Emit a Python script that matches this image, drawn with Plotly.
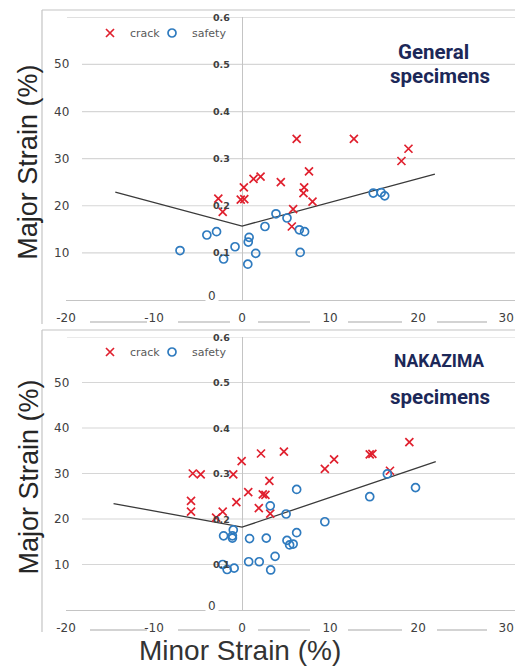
import plotly.graph_objects as go

# ---------------- data ----------------
x_ticks = [-20, -10, 0, 10, 20, 30]
y_ticks = [10, 20, 30, 40, 50]
inner_ticks = [0.1, 0.2, 0.3, 0.4, 0.5, 0.6]
grid_vals = [10, 20, 30, 40, 50, 60]

# General specimens (top)
top_crack_x = [-2.7, -2.2, -0.15, 0.25, 0.2, 1.3, 2.1, 4.4, 6.2, 12.7, 18.9, 18.1,
               7.6, 7.05, 6.97, 8.0, 5.8, 5.65]
top_crack_y = [21.5, 18.7, 21.3, 21.4, 23.9, 25.7, 26.2, 25.0, 34.2, 34.2, 32.1, 29.5,
               27.3, 23.9, 22.7, 20.9, 19.3, 15.6]
top_safe_x = [-7.05, -4.0, -2.9, -2.1, -0.8, 0.65, 0.7, 0.8, 1.55, 2.6, 3.85, 5.1,
              6.5, 7.1, 6.6, 14.9, 15.8, 16.2]
top_safe_y = [10.5, 13.8, 14.5, 8.7, 11.3, 7.6, 12.3, 13.3, 9.9, 15.6, 18.3, 17.4,
              14.9, 14.5, 10.1, 22.7, 22.8, 22.1]
top_line_x = [-14.4, 0, 21.9]
top_line_y = [22.9, 15.7, 26.7]

# NAKAZIMA specimens (bottom)
bot_crack_x = [-5.6, -4.7, -5.8, -5.8, -2.95, -2.2, -1.0, -0.65, -0.05, 0.7, 1.9, 2.15,
               4.75, 3.1, 2.35, 2.65, 3.2, 9.4, 10.45, 14.5, 14.8, 16.8, 19.0]
bot_crack_y = [30.0, 29.8, 24.0, 21.6, 20.3, 21.6, 29.8, 23.7, 32.7, 25.9, 22.4, 34.4,
               34.8, 28.4, 25.4, 25.3, 21.2, 31.0, 33.1, 34.2, 34.3, 30.6, 36.9]
bot_safe_x = [-1.0, -2.1, -1.1, -1.1, 0.85, 2.75, 3.2, 5.0, 5.1, 5.4, 5.8, 6.2, 6.2,
              9.4, 14.5, 16.5, 19.7, 3.75, 0.75, 1.95, 3.25, -2.2, -1.7, -0.9]
bot_safe_y = [17.6, 16.3, 16.3, 15.8, 15.7, 15.8, 22.9, 21.1, 15.3, 14.3, 14.5, 17.0, 26.5,
              19.4, 24.9, 29.9, 26.9, 11.8, 10.6, 10.6, 8.8, 10.0, 8.9, 9.2]
bot_line_x = [-14.6, 0, 22.0]
bot_line_y = [23.4, 18.2, 32.6]

# ---------------- styling ----------------
W, H = 515, 667
RED = "#e0202e"
BLUE = "#2f7bbf"
GRID = "#d6d6d6"
BORDER = "#c4c4c4"
TXT = "#404040"
NAVY = "#1c2858"
NUMFONT = "DejaVu Sans, sans-serif"
TITLEFONT = "Liberation Sans, Arial, sans-serif"
HEADFONT = "Roboto, Liberation Sans, sans-serif"


def px(xp):
    return xp / W


def py(yp):
    return 1 - yp / H


panels = [
    dict(xa="x", ya="y", leg="legend", y0=300.0, y60=17.3, top=10, bottom=322,
         cx=top_crack_x, cy=top_crack_y, sx=top_safe_x, sy=top_safe_y,
         lx=top_line_x, ly=top_line_y, legy=33,
         heads=[("General", 433, 52, 20.5), ("specimens", 440, 76, 20.5)]),
    dict(xa="x2", ya="y2", leg="legend2", y0=610.0, y60=337.0, top=330, bottom=630,
         cx=bot_crack_x, cy=bot_crack_y, sx=bot_safe_x, sy=bot_safe_y,
         lx=bot_line_x, ly=bot_line_y, legy=352,
         heads=[("NAKAZIMA", 439, 361, 17.5), ("specimens", 440, 397, 20.5)]),
]

fig = go.Figure()
shapes = []
annotations = []

for i, p in enumerate(panels):
    fig.add_trace(go.Scatter(
        x=p["lx"], y=p["ly"], mode="lines", xaxis=p["xa"], yaxis=p["ya"],
        line=dict(color="#3a3a3a", width=1.3), showlegend=False, hoverinfo="skip"))
    fig.add_trace(go.Scatter(
        x=p["cx"], y=p["cy"], mode="markers", name="crack", xaxis=p["xa"], yaxis=p["ya"],
        legend=p["leg"], legendwidth=17,
        marker=dict(symbol="x-thin", size=8, line=dict(color=RED, width=1.7), color=RED)))
    fig.add_trace(go.Scatter(
        x=p["sx"], y=p["sy"], mode="markers", name="safety", xaxis=p["xa"], yaxis=p["ya"],
        legend=p["leg"], legendwidth=45,
        marker=dict(symbol="circle-open", size=8, line=dict(color=BLUE, width=1.7), color=BLUE)))

    # gridlines
    for v in grid_vals:
        x0 = 67 if v == 60 else 82
        shapes.append(dict(type="line", xref="paper", yref=p["ya"], x0=px(x0), x1=1,
                           y0=v, y1=v, line=dict(color=GRID, width=1.2), layer="below"))
    # panel border (top and left)
    shapes.append(dict(type="line", xref="paper", yref="paper", x0=px(42), x1=1,
                       y0=py(p["top"]), y1=py(p["top"]), line=dict(color=BORDER, width=1.2)))
    shapes.append(dict(type="line", xref="paper", yref="paper", x0=px(42), x1=px(42),
                       y0=py(p["top"]), y1=py(p["bottom"] + 2), line=dict(color=BORDER, width=1.2)))
    # broken bottom border segments
    for a, b in [(90, 147), (178, 230), (258, 310), (348, 402), (437, 487)]:
        shapes.append(dict(type="line", xref="paper", yref="paper", x0=px(a), x1=px(b),
                           y0=py(p["bottom"]), y1=py(p["bottom"]),
                           line=dict(color=BORDER, width=1.5)))

    # left y tick labels
    for v in y_ticks:
        annotations.append(dict(xref="paper", yref=p["ya"], x=px(71), y=v, text=str(v),
                                showarrow=False, xanchor="right", yanchor="middle",
                                font=dict(family=NUMFONT, size=12, color=TXT)))
    # inner fraction labels on the x=0 axis
    for v in inner_ticks:
        annotations.append(dict(xref=p["xa"], yref=p["ya"], x=0, y=v * 100, text=f"{v:.1f}",
                                showarrow=False, xanchor="right", yanchor="middle", xshift=-10,
                                font=dict(family="DejaVu Sans, sans-serif", size=9.5,
                                          color=TXT, weight="bold")))
    annotations.append(dict(xref=p["xa"], yref=p["ya"], x=0, y=0, text="0",
                            showarrow=False, xanchor="right", yanchor="middle", xshift=-23,
                            yshift=4, bgcolor="white", borderpad=2,
                            font=dict(family=NUMFONT, size=12, color=TXT)))
    # y-axis title
    ymid = (p["y0"] + p["y60"]) / 2 + 4
    annotations.append(dict(xref="paper", yref="paper", x=px(28), y=py(ymid),
                            text="Major Strain (%)", textangle=-90, showarrow=False,
                            xanchor="center", yanchor="middle",
                            font=dict(family=TITLEFONT, size=27, color="#262626")))
    # heading
    for t, hx, hy, fs in p["heads"]:
        annotations.append(dict(xref="paper", yref="paper", x=px(hx), y=py(hy), text=t,
                                showarrow=False, xanchor="center", yanchor="middle",
                                font=dict(family=HEADFONT, size=fs, color=NAVY, weight="bold")))

annotations.append(dict(xref="paper", yref="paper", x=px(240), y=py(650),
                        text="Minor Strain (%)", showarrow=False, xanchor="center",
                        yanchor="middle", font=dict(family=TITLEFONT, size=28, color="#333333")))

xaxis_common = dict(range=[-20, 31], tickvals=x_ticks, ticktext=[str(v) for v in x_ticks],
                    showgrid=False, zeroline=True, zerolinecolor="#c4c4c4", zerolinewidth=1,
                    showline=True, linecolor="#c4c4c4", linewidth=1.2,
                    ticks="outside", ticklen=6, tickcolor="rgba(0,0,0,0)",
                    tickfont=dict(family=NUMFONT, size=12, color=TXT),
                    domain=[px(66), 1], fixedrange=True, automargin=False)
yaxis_common = dict(range=[0, 60], showgrid=False, zeroline=False, showticklabels=False,
                    ticks="", showline=False, fixedrange=True, automargin=False)

legend_common = dict(orientation="h", x=px(90), xanchor="left", yanchor="middle",
                     bgcolor="rgba(0,0,0,0)", itemwidth=30, tracegroupgap=0,
                     entrywidthmode="pixels",
                     font=dict(family="DejaVu Sans, sans-serif", size=11, color="#595959"))

fig.update_layout(
    width=W, height=H, margin=dict(l=0, r=0, t=0, b=0, pad=0, autoexpand=False),
    paper_bgcolor="white", plot_bgcolor="white",
    xaxis=dict(xaxis_common, anchor="y"),
    yaxis=dict(yaxis_common, anchor="x", domain=[py(panels[0]["y0"]), py(panels[0]["y60"])]),
    xaxis2=dict(xaxis_common, anchor="y2"),
    yaxis2=dict(yaxis_common, anchor="x2", domain=[py(panels[1]["y0"]), py(panels[1]["y60"])]),
    legend=dict(legend_common, y=py(panels[0]["legy"])),
    legend2=dict(legend_common, y=py(panels[1]["legy"])),
    shapes=shapes, annotations=annotations,
)

fig.write_html(
    "out.html",
    config={"displayModeBar": False},
    post_script="document.body.style.margin='0';"
                "document.documentElement.style.overflow='hidden';"
                "document.body.style.overflow='hidden';",
)
